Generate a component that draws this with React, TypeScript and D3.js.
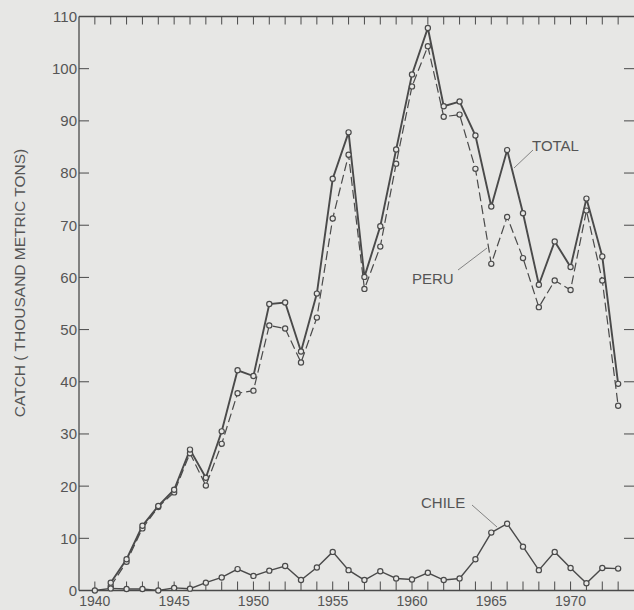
import React from "react";
import * as d3 from "d3";

const years = d3.range(1940, 1974);
const totalYears = d3.range(1941, 1974);
const totalValues = [1.5, 6.0, 12.4, 16.2, 19.3, 27.0, 21.6, 30.5, 42.2, 41.1, 54.9, 55.2, 45.8, 56.9, 78.9, 87.8, 60.1, 69.8, 84.5, 98.9, 107.8, 92.8, 93.7, 87.2, 73.6, 84.4, 72.3, 58.6, 66.9, 62.0, 75.1, 64.0, 39.6];
const peruValues = [0.8, 5.5, 11.9, 16.0, 18.8, 26.3, 20.1, 28.1, 37.8, 38.3, 50.8, 50.2, 43.7, 52.3, 71.3, 83.5, 57.8, 65.9, 81.8, 96.6, 104.3, 90.8, 91.2, 80.8, 62.6, 71.6, 63.7, 54.3, 59.4, 57.6, 72.8, 59.4, 35.4];
const chileValues = [0, 0.4, 0.3, 0.3, 0, 0.5, 0.35, 1.5, 2.5, 4.1, 2.8, 3.8, 4.7, 2.0, 4.4, 7.4, 3.9, 2.0, 3.7, 2.3, 2.1, 3.4, 2.0, 2.3, 6.0, 11.1, 12.8, 8.4, 3.9, 7.4, 4.3, 1.4, 4.3, 4.2];
const yTicks = [0, 10, 20, 30, 40, 50, 60, 70, 80, 90, 100, 110];
const xTickLabels = [1940, 1945, 1950, 1955, 1960, 1965, 1970];
const yAxisTitle = "CATCH ( THOUSAND METRIC TONS)";

const W = 634;
const H = 610;
const INK = "#4a4a4a";
const BG = "#e7e7e5";
const FONT = "'Liberation Sans', 'DejaVu Sans', sans-serif";

export default function App() {
  const x = d3.scaleLinear().domain([1939, 1974]).range([79, 634]);
  const y = d3.scaleLinear().domain([0, 110]).range([590.5, 16.5]);
  const line = d3
    .line<[number, number]>()
    .x((d) => x(d[0]))
    .y((d) => y(d[1]));

  const total: [number, number][] = totalYears.map((yr, i) => [yr, totalValues[i]]);
  const peru: [number, number][] = totalYears.map((yr, i) => [yr, peruValues[i]]);
  const chile: [number, number][] = years.map((yr, i) => [yr, chileValues[i]]);
  const allYears = d3.range(1940, 1974);

  const markers = (data: [number, number][], key: string) =>
    data.map((d, i) => (
      <circle key={key + i} cx={x(d[0])} cy={y(d[1])} r={2.6} fill={BG} stroke={INK} strokeWidth={1.2} />
    ));

  return (
    <svg width={W} height={H} style={{ position: "absolute", left: 0, top: 0 }} fontFamily={FONT}>
      <rect x={0} y={0} width={W} height={H} fill={BG} />
      {/* frame */}
      <line x1={x(1939)} x2={x(1939)} y1={y(110)} y2={y(0)} stroke={INK} strokeWidth={1.3} />
      <line x1={x(1939)} x2={W} y1={y(110)} y2={y(110)} stroke={INK} strokeWidth={1.3} />
      <line x1={x(1939)} x2={W} y1={y(0)} y2={y(0)} stroke={INK} strokeWidth={1.3} />
      {/* year ticks top & bottom */}
      {allYears.map((yr) => (
        <g key={"t" + yr}>
          <line x1={x(yr)} x2={x(yr)} y1={y(110)} y2={y(110) + 8} stroke={INK} strokeWidth={1} />
          <line x1={x(yr)} x2={x(yr)} y1={y(0)} y2={y(0) - 9} stroke={INK} strokeWidth={1} />
        </g>
      ))}
      {/* y ticks left & right */}
      {yTicks.map((v) => (
        <g key={"y" + v}>
          {v > 0 && v < 110 && (
            <>
              <line x1={x(1939)} x2={x(1939) + 10} y1={y(v)} y2={y(v)} stroke={INK} strokeWidth={1} />
              <line x1={W - 10} x2={W} y1={y(v)} y2={y(v)} stroke={INK} strokeWidth={1} />
            </>
          )}
          <text x={77} y={y(v)} dy="0.36em" textAnchor="end" fontSize={15} fill="#555">
            {v}
          </text>
        </g>
      ))}
      {xTickLabels.map((yr) => (
        <text key={"xl" + yr} x={x(yr)} y={606} textAnchor="middle" fontSize={14} fill="#555">
          {yr}
        </text>
      ))}
      <text
        transform={`translate(25, 283) rotate(-90)`}
        textAnchor="middle"
        fontSize={15.5}
        fill="#555"
      >
        {yAxisTitle}
      </text>
      {/* series */}
      <path d={line(peru) || ""} fill="none" stroke={INK} strokeWidth={1.2} strokeDasharray="9,4" />
      <path d={line(total) || ""} fill="none" stroke={INK} strokeWidth={1.9} />
      <path d={line(chile) || ""} fill="none" stroke={INK} strokeWidth={1.4} />
      {markers(peru, "p")}
      {markers(total, "t")}
      {markers(chile, "c")}
      {/* labels */}
      <line x1={533} y1={150} x2={514} y2={168} stroke="#777" strokeWidth={0.9} />
      <text x={532} y={151} fontSize={15} fill="#555">TOTAL</text>
      <line x1={458} y1={270} x2={487} y2={248} stroke="#777" strokeWidth={0.9} />
      <text x={412} y={284} fontSize={15} fill="#555">PERU</text>
      <line x1={472} y1={505} x2={497} y2={527} stroke="#777" strokeWidth={0.9} />
      <text x={421} y={508} fontSize={15} fill="#555">CHILE</text>
    </svg>
  );
}
